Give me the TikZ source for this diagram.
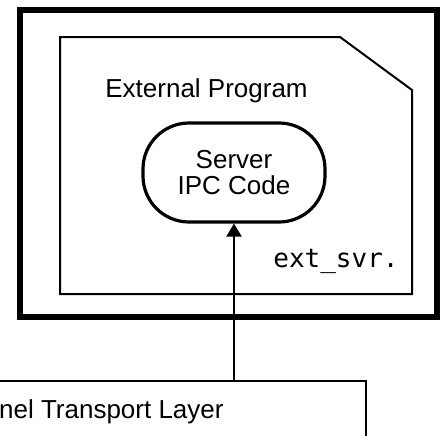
\documentclass[tikz,border=0pt]{standalone}
\usepackage{fontspec}
\setmainfont{Liberation Sans}
\setmonofont{DejaVu Sans Mono}
\usetikzlibrary{arrows.meta}

\begin{document}
\begin{tikzpicture}[x=0.5pt, y=-0.5pt, font=\fontsize{13}{13}\selectfont]
                \clip (0,0) rectangle (440,435);
                \node[draw, line width=3pt, inner sep=0, minimum width=208.5pt, minimum height=153.5pt] (outer) at (228.5,163.5) {};
                \draw[line width=1pt] (60,37) -- (340,37) -- (412,90) -- (412,294) -- (60,294) -- cycle;
                \node[anchor=base west, inner sep=0] (prog) at (105,97) {External Program};
                \node[draw, rounded corners=23pt, line width=1.6pt, inner sep=0, minimum width=91pt, minimum height=49.5pt, align=center] (server) at (234,172.5) {Server\\IPC Code};
                \node[anchor=base east, inner sep=0, font=\ttfamily\fontsize{13}{13}\selectfont] (file) at (399,267) {ext\_svr.};
                \node[draw, line width=1pt, anchor=north east, inner sep=0, minimum width=233.5pt, minimum height=40pt] (layer) at (367,380) {};
                \node[anchor=base east, inner sep=0] (layertext) at (224,418) {nel Transport Layer};
                \draw[-{Triangle[length=6.5pt,width=7.5pt]}, line width=1pt] (server.south |- layer.north) -- (server.south);
            \end{tikzpicture}
\end{document}
